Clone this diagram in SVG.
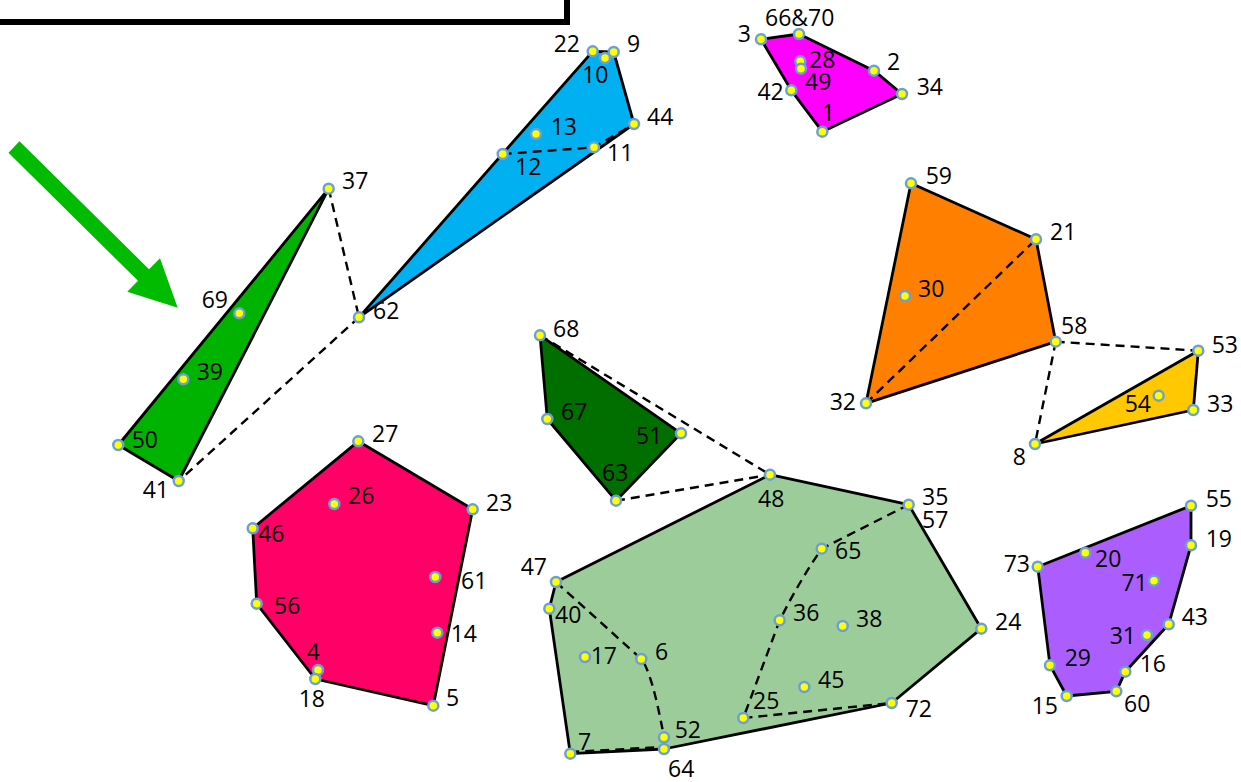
<svg xmlns="http://www.w3.org/2000/svg" width="1241" height="782" viewBox="0 0 1241 782">
<style>
.poly{stroke:#000;stroke-width:2.8;stroke-linejoin:round}
.dash{fill:none;stroke:#000;stroke-width:2.4;stroke-dasharray:9 6}
.pt{fill:#ffff00;stroke:#6a9fd8;stroke-width:2.5}
text{font-family:"Open Sans","Liberation Sans",Arial,sans-serif;font-size:23px;fill:#000}
.e{text-anchor:end}
</style>
<rect x="-20" y="-20" width="587" height="42" fill="#fff" stroke="#000" stroke-width="6"/>
<polygon id="arrow" points="19.5,141.2 149,269.2 160,258.3 177.7,307.7 127.3,291.7 138,280.8 8.5,152.8" fill="#00bb00"/>

<g id="magenta">
<polygon class="poly" fill="#ff00ff" points="761,39.3 799,34 874,70.7 902,94 822.3,131.7 791.3,90.3"/>
</g>
<g id="blue">
<polygon class="poly" fill="#00b0f0" points="592.7,51.3 613.7,52 634,124 359,317.3"/>
</g>
<g id="green">
<polygon class="poly" fill="#00b300" points="328.7,188.7 178.7,481 118.3,445"/>
</g>
<g id="darkgreen">
<polygon class="poly" fill="#006f00" points="540,335.3 681,433.3 616,500.7 547.3,419"/>
</g>
<g id="lightgreen">
<polygon class="poly" fill="#9dcc9b" points="770,474.7 908.7,504.7 981.3,628.7 891.7,703 664,749 570.3,753.7 549.3,608.7 556,582"/>
</g>
<g id="orange">
<polygon class="poly" fill="#ff8000" points="911,183.3 1036,239.3 1055.7,341.7 866,403.3"/>
</g>
<g id="yellowtri">
<polygon class="poly" fill="#ffc800" points="1198.3,350.7 1193.3,410 1035,444"/>
</g>
<g id="purple">
<polygon class="poly" fill="#ab5efd" points="1191,505.7 1191,545.3 1168.7,624.3 1125.3,671.7 1116.3,691.3 1066.7,696 1050,665.3 1037.7,566.7"/>
</g>
<g id="pink">
<polygon class="poly" fill="#ff0066" points="358.3,441.3 472.7,509.3 433.3,705.7 315.3,679 256.7,603.7 252.7,528.3"/>
</g>

<g id="connectors">
<polyline class="dash" points="502.7,154 594,147.3 634,124"/>
<line class="dash" x1="328.7" y1="188.7" x2="359" y2="317.3"/>
<line class="dash" x1="359" y1="317.3" x2="178.7" y2="481"/>
<line class="dash" x1="540" y1="335.3" x2="770" y2="474.7"/>
<line class="dash" x1="616" y1="500.7" x2="770" y2="474.7"/>
<line class="dash" x1="866" y1="403.3" x2="1036" y2="239.3"/>
<line class="dash" x1="1055.7" y1="341.7" x2="1198.3" y2="350.7"/>
<line class="dash" x1="1055.7" y1="341.7" x2="1035" y2="444"/>
<path class="dash" d="M556,582 L641.3,659 Q652,672 664,737.3"/>
<path class="dash" d="M908.7,504.7 L821.7,548.7 Q800,580 779.7,620.3 L743.3,718 L891.7,703"/>
<line class="dash" x1="570.3" y1="752" x2="664" y2="747"/>
</g>

<g id="nodes">
<circle class="pt" cx="761" cy="39.3" r="5"/>
<circle class="pt" cx="799" cy="34" r="5"/>
<circle class="pt" cx="874" cy="70.7" r="5"/>
<circle class="pt" cx="902" cy="94" r="5"/>
<circle class="pt" cx="822.3" cy="131.7" r="5"/>
<circle class="pt" cx="791.3" cy="90.3" r="5"/>
<circle class="pt" cx="800.3" cy="61.3" r="5"/>
<circle class="pt" cx="801" cy="68.7" r="5"/>
<circle class="pt" cx="592.7" cy="51.3" r="5"/>
<circle class="pt" cx="613.7" cy="52" r="5"/>
<circle class="pt" cx="605" cy="58" r="5"/>
<circle class="pt" cx="634" cy="124" r="5"/>
<circle class="pt" cx="594" cy="147.3" r="5"/>
<circle class="pt" cx="502.7" cy="154" r="5"/>
<circle class="pt" cx="536" cy="134" r="5"/>
<circle class="pt" cx="328.7" cy="188.7" r="5"/>
<circle class="pt" cx="359" cy="317.3" r="5"/>
<circle class="pt" cx="239.3" cy="313.3" r="5"/>
<circle class="pt" cx="183.3" cy="379.3" r="5"/>
<circle class="pt" cx="118.3" cy="445" r="5"/>
<circle class="pt" cx="178.7" cy="481" r="5"/>
<circle class="pt" cx="540" cy="335.3" r="5"/>
<circle class="pt" cx="547.3" cy="419" r="5"/>
<circle class="pt" cx="681" cy="433.3" r="5"/>
<circle class="pt" cx="616" cy="500.7" r="5"/>
<circle class="pt" cx="770" cy="474.7" r="5"/>
<circle class="pt" cx="908.7" cy="504.7" r="5"/>
<circle class="pt" cx="981.3" cy="628.7" r="5"/>
<circle class="pt" cx="891.7" cy="703" r="5"/>
<circle class="pt" cx="664" cy="749" r="5"/>
<circle class="pt" cx="664" cy="737.3" r="5"/>
<circle class="pt" cx="570.3" cy="753.7" r="5"/>
<circle class="pt" cx="549.3" cy="608.7" r="5"/>
<circle class="pt" cx="556" cy="582" r="5"/>
<circle class="pt" cx="585" cy="657" r="5"/>
<circle class="pt" cx="641.3" cy="659" r="5"/>
<circle class="pt" cx="743.3" cy="718" r="5"/>
<circle class="pt" cx="779.7" cy="620.3" r="5"/>
<circle class="pt" cx="821.7" cy="548.7" r="5"/>
<circle class="pt" cx="842.7" cy="626" r="5"/>
<circle class="pt" cx="804.3" cy="687" r="5"/>
<circle class="pt" cx="911" cy="183.3" r="5"/>
<circle class="pt" cx="1036" cy="239.3" r="5"/>
<circle class="pt" cx="1055.7" cy="341.7" r="5"/>
<circle class="pt" cx="866" cy="403.3" r="5"/>
<circle class="pt" cx="905" cy="296" r="5"/>
<circle class="pt" cx="1198.3" cy="350.7" r="5"/>
<circle class="pt" cx="1193.3" cy="410" r="5"/>
<circle class="pt" cx="1158.7" cy="395.7" r="5"/>
<circle class="pt" cx="1035" cy="444" r="5"/>
<circle class="pt" cx="1191" cy="505.7" r="5"/>
<circle class="pt" cx="1191" cy="545.3" r="5"/>
<circle class="pt" cx="1168.7" cy="624.3" r="5"/>
<circle class="pt" cx="1125.3" cy="671.7" r="5"/>
<circle class="pt" cx="1116.3" cy="691.3" r="5"/>
<circle class="pt" cx="1066.7" cy="696" r="5"/>
<circle class="pt" cx="1050" cy="665.3" r="5"/>
<circle class="pt" cx="1037.7" cy="566.7" r="5"/>
<circle class="pt" cx="1085.3" cy="552.7" r="5"/>
<circle class="pt" cx="1154" cy="580.7" r="5"/>
<circle class="pt" cx="1147" cy="635" r="5"/>
<circle class="pt" cx="358.3" cy="441.3" r="5"/>
<circle class="pt" cx="472.7" cy="509.3" r="5"/>
<circle class="pt" cx="433.3" cy="705.7" r="5"/>
<circle class="pt" cx="318" cy="670" r="5"/>
<circle class="pt" cx="315.3" cy="679" r="5"/>
<circle class="pt" cx="256.7" cy="603.7" r="5"/>
<circle class="pt" cx="252.7" cy="528.3" r="5"/>
<circle class="pt" cx="334.3" cy="504" r="5"/>
<circle class="pt" cx="435.3" cy="577" r="5"/>
<circle class="pt" cx="437.3" cy="632.7" r="5"/>
</g>

<g id="labels">
<text x="751" y="41.7" class="e">3</text>
<text x="765" y="26">66&amp;70</text>
<text x="809" y="68">28</text>
<text x="805" y="90">49</text>
<text x="887" y="70">2</text>
<text x="916.7" y="95">34</text>
<text x="783.7" y="100" class="e">42</text>
<text x="821.7" y="120.7">1</text>
<text x="580" y="51.7" class="e">22</text>
<text x="627" y="51.7">9</text>
<text x="582" y="83">10</text>
<text x="647" y="125">44</text>
<text x="550.7" y="135">13</text>
<text x="607" y="160.7">11</text>
<text x="515" y="175">12</text>
<text x="342" y="189">37</text>
<text x="373" y="319">62</text>
<text x="228" y="308" class="e">69</text>
<text x="196.7" y="380">39</text>
<text x="131.7" y="448">50</text>
<text x="169" y="498" class="e">41</text>
<text x="553" y="336.7">68</text>
<text x="561" y="420">67</text>
<text x="636" y="444">51</text>
<text x="602" y="480.7">63</text>
<text x="758" y="506.7">48</text>
<text x="922" y="505">35</text>
<text x="922" y="528">57</text>
<text x="835" y="559">65</text>
<text x="547" y="575" class="e">47</text>
<text x="555" y="623">40</text>
<text x="590.7" y="664">17</text>
<text x="655" y="660">6</text>
<text x="793" y="621">36</text>
<text x="856" y="626.7">38</text>
<text x="995" y="630">24</text>
<text x="818" y="688">45</text>
<text x="753" y="709">25</text>
<text x="905.7" y="717">72</text>
<text x="674.7" y="737.7">52</text>
<text x="578" y="750">7</text>
<text x="668" y="776.7">64</text>
<text x="925.7" y="184.3">59</text>
<text x="1050" y="240">21</text>
<text x="918" y="297">30</text>
<text x="1061" y="334">58</text>
<text x="1211.7" y="352.7">53</text>
<text x="1151" y="412" class="e">54</text>
<text x="1207" y="412">33</text>
<text x="856" y="410" class="e">32</text>
<text x="1026" y="465" class="e">8</text>
<text x="1205.7" y="506.7">55</text>
<text x="1205.7" y="546.7">19</text>
<text x="1030" y="571.7" class="e">73</text>
<text x="1095" y="566.7">20</text>
<text x="1147.7" y="591" class="e">71</text>
<text x="1181.7" y="625">43</text>
<text x="1136" y="644" class="e">31</text>
<text x="1139.7" y="671.7">16</text>
<text x="1064.7" y="666">29</text>
<text x="1058" y="714" class="e">15</text>
<text x="1124" y="711.7">60</text>
<text x="372" y="441.7">27</text>
<text x="486" y="510.7">23</text>
<text x="348" y="504">26</text>
<text x="258" y="542">46</text>
<text x="461" y="589">61</text>
<text x="274" y="614">56</text>
<text x="450.7" y="642">14</text>
<text x="306.7" y="660">4</text>
<text x="325" y="707" class="e">18</text>
<text x="446" y="706">5</text>
</g>
</svg>
